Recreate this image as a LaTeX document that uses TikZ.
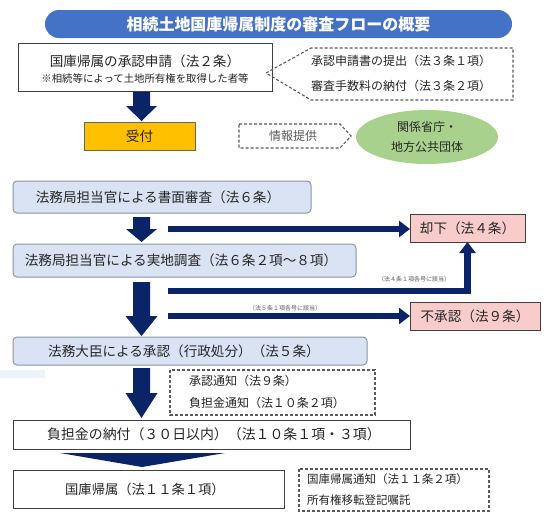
\documentclass[tikz,border=0pt]{standalone}
\usepackage{fontspec}
\setmainfont{Noto Sans CJK JP}
\usetikzlibrary{arrows.meta,shapes.geometric,calc}
\definecolor{navy}{HTML}{0B2468}
\definecolor{bannerc}{HTML}{4472C4}
\definecolor{lblue}{HTML}{DAE3F3}
\definecolor{lbord}{HTML}{8C96A6}
\definecolor{orng}{HTML}{FFC000}
\definecolor{pinkf}{HTML}{F9CCCC}
\definecolor{greenf}{HTML}{A9D18E}
\definecolor{txt}{HTML}{262626}
\definecolor{gtxt}{HTML}{595959}
\definecolor{dashc}{HTML}{5A5A5A}
\newcommand\fsz[1]{\fontsize{#1}{#1}\selectfont}
\begin{document}
\begin{tikzpicture}[x=1pt,y=-1pt,
  every node/.style={inner sep=0pt, outer sep=0pt, text=txt},
  plainbox/.style={draw=black!75, line width=1pt, fill=white},
  bluebox/.style={draw=lbord, line width=1pt, fill=lblue, rounded corners=4pt},
  orangebox/.style={draw=black!60, line width=1pt, fill=orng},
  pinkbox/.style={draw=black!75, line width=1pt, fill=pinkf},
  dashbox/.style={draw=dashc, line width=1.1pt, dash pattern=on 3pt off 2pt},
  blockarr/.style={fill=navy, draw=none},
  hconn/.style={draw=navy, line width=6.5pt, line join=miter, -{Triangle[length=11pt,width=16pt]}},
  maintxt/.style={font=\fsz{13.6}},
  sidetxt/.style={font=\fsz{12}, anchor=west},
  tinytxt/.style={font=\fsz{6}, text=gtxt},
]
\useasboundingbox (0,0) rectangle (550,520);
\fill[white] (0,0) rectangle (550,520);
\fill[lblue!45] (0,370) rectangle (45,378);

% title banner
\node[fill=bannerc, rounded corners=14pt, minimum width=467, minimum height=28, text=white,
      font=\fsz{16}\bfseries] (title) at (278.5,24) {相続土地国庫帰属制度の審査フローの概要};

% application box
\node[plainbox, minimum width=254, minimum height=48] (b1) at (145,67) {};
\node[maintxt] (b1t) at (145,61) {国庫帰属の承認申請（法２条）};
\node[font=\fsz{10.4}] (b1s) at (145,79) {※相続等によって土地所有権を取得した者等};

% callout
\draw[dashbox] (266,73) -- (311,48) -- (513,48) -- (513,100) -- (311,100) -- cycle;
\node[sidetxt] (c1) at (311,61) {承認申請書の提出（法３条１項）};
\node[sidetxt] (c2) at (311,86) {審査手数料の納付（法３条２項）};

% arrow 1
\fill[blockarr] (133,92) -- (150,92) -- (150,106) -- (157,106) -- (141.5,121) -- (126,106) -- (133,106) -- cycle;

% reception
\node[orangebox, minimum width=111, minimum height=28, maintxt] (uke) at (139.5,136) {受付};

% info provision
\draw[dashbox] (239,124) -- (340,124) -- (351,136) -- (340,148) -- (239,148) -- cycle;
\node[font=\fsz{12}, text=gtxt] (info) at (293,136) {情報提供};

% ellipse
\node[ellipse, fill=greenf, minimum width=142, minimum height=54] (ell) at (427,137) {};
\node[font=\fsz{12}] (e1) at (427,127) {関係省庁・};
\node[font=\fsz{12}] (e2) at (427,147) {地方公共団体};

% document review
\node[bluebox, minimum width=298, minimum height=32] (shomen) at (162,197) {};
\node[maintxt] (shomt) at (158,197) {法務局担当官による書面審査（法６条）};

% arrow 2
\fill[blockarr] (133,217) -- (150,217) -- (150,229) -- (157,229) -- (141.5,242) -- (126,229) -- (133,229) -- cycle;

% dismissal
\node[pinkbox, minimum width=115, minimum height=28, maintxt] (kyakka) at (467.5,228) {却下（法４条）};
\coordinate (h1) at (168,229);
\draw[hconn] (h1) -- (h1 -| kyakka.west);

% on-site survey
\node[bluebox, minimum width=343, minimum height=33] (jitchi) at (184.5,260.5) {};
\node[maintxt] (jitt) at (181,260.5) {法務局担当官による実地調査（法６条２項～８項）};

% arrow 3
\fill[blockarr] (133,282) -- (150,282) -- (150,316) -- (157.5,316) -- (141.5,336) -- (125.5,316) -- (133,316) -- cycle;

% line to dismissal
\coordinate (h2) at (168,291);
\draw[hconn] (h2) -| (kyakka.south);
\node[tinytxt] (lab4) at (414,279) {（法４条１項各号に該当）};

% non-approval
\node[pinkbox, minimum width=130, minimum height=28, maintxt] (fusho) at (475,316) {不承認（法９条）};
\coordinate (h3) at (168,316);
\draw[hconn] (h3) -- (h3 -| fusho.west);
\node[tinytxt] (lab5) at (285,308) {（法５条１項各号に該当）};

% approval
\node[bluebox, minimum width=354, minimum height=28] (shonin) at (190,351) {};
\node[maintxt] (shot) at (184,351) {法務大臣による承認（行政処分）（法５条）};

% arrow 4
\fill[blockarr] (133,368) -- (150,368) -- (150,393) -- (157.5,393) -- (141.5,418) -- (125.5,393) -- (133,393) -- cycle;

% notices
\draw[dashbox] (170,370) rectangle (375,415);
\node[sidetxt] (n1) at (189,381) {承認通知（法９条）};
\node[sidetxt] (n2) at (189,403) {負担金通知（法１０条２項）};

% payment
\node[plainbox, minimum width=397, minimum height=29] (futan) at (211.5,434.5) {};
\node[font=\fsz{13.9}] (futt) at (214,434.5) {負担金の納付（３０日以内）（法１０条１項・３項）};

% chevron
\fill[blockarr] (60,453) -- (225,453) -- (142,467) -- cycle;

% vesting
\node[plainbox, minimum width=271, minimum height=38] (kokko) at (148.5,489) {};
\node[font=\fsz{13.3}] (kokt) at (145,489) {国庫帰属（法１１条１項）};

\draw[dashbox] (299,469) rectangle (489,511);
\node[font=\fsz{11.5}, anchor=west] (k1) at (307,479) {国庫帰属通知（法１１条２項）};
\node[font=\fsz{11.5}, anchor=west] (k2) at (307,500) {所有権移転登記嘱託};
\end{tikzpicture}
\end{document}
